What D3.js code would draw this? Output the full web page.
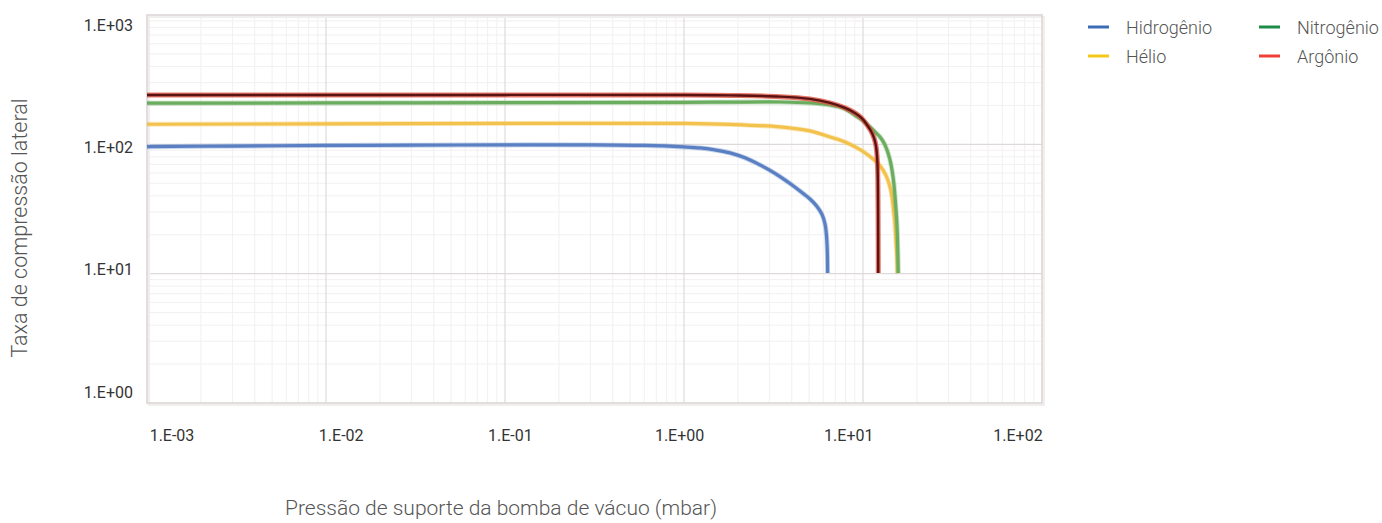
<!DOCTYPE html>
<html>
<head>
<meta charset="utf-8">
<script src="https://cdn.jsdelivr.net/npm/d3@7"></script>
<style>
  body { margin: 0; background: #fff; font-family: Roboto, "Open Sans", sans-serif; }
  .canvas svg { display: block; }
</style>
</head>
<body>
<div class="canvas"></div>
<script>
// gas names + legend colours
const gases = ["Hidrogênio", "Hélio", "Nitrogênio", "Argônio"];
const legendColors = ["#3c6cb6", "#f5c71a", "#1f8c47", "#ee3e35"];

// curves: pressure (mbar) / compression ratio
const pressH2 = [0.001, 0.003, 0.01, 0.03, 0.1, 0.3, 0.6, 1.0, 1.228, 1.49, 1.807, 2.192, 2.658, 3.023, 3.438, 3.91, 4.446, 5.057, 5.534, 5.902, 6.134, 6.254, 6.319, 6.343];
const ratioH2 = [96, 97, 98, 98.5, 99, 99, 98, 95.5, 93.8, 90.5, 85.9, 78.6, 69.3, 62.9, 56.3, 49.8, 43.6, 37.8, 33.1, 28.7, 24.2, 19.6, 14.7, 10.1];

const pressHe = [0.001, 0.01, 0.1, 1.0, 1.807, 3.438, 5.057, 6.54, 7.93, 9.26, 10.39, 11.37, 12.29, 12.93, 13.62, 14.15, 14.52, 14.8, 15.09, 15.29, 15.49, 15.55];
const ratioHe = [143, 144, 145, 145, 142.6, 136.4, 127.1, 114.1, 104.4, 93.8, 85, 77.1, 69.9, 63.4, 55, 46.8, 39.2, 31.1, 23.8, 17.3, 12.8, 10.1];

const pressN2 = [0.001, 0.01, 0.1, 1.0, 1.807, 3.438, 5.057, 6.54, 7.93, 8.79, 9.87, 10.94, 11.82, 12.45, 13.1, 13.62, 14.15, 14.52, 14.9, 15.19, 15.43, 15.58, 15.74];
const ratioN2 = [208, 209, 210, 211, 212, 212.5, 208.9, 201.6, 187.8, 171.8, 154.4, 136.3, 122.5, 114.1, 102.5, 90.5, 75.7, 63.4, 48.5, 35.2, 26, 19.2, 10.1];

const pressAr = [0.001, 0.01, 0.1, 1.0, 1.807, 3.438, 5.057, 6.54, 7.93, 9.02, 9.87, 10.53, 11.08, 11.52, 11.82, 12.0, 12.09, 12.14, 12.17];
const ratioAr = [241, 241, 241, 241, 238.9, 233.8, 224.4, 209, 191.2, 174.9, 158.6, 141.3, 126.9, 112.1, 97.2, 78.5, 58, 31.1, 10.1];

const xTickLabels = ["1.E-03", "1.E-02", "1.E-01", "1.E+00", "1.E+01", "1.E+02"];
const yTickLabels = ["1.E+00", "1.E+01", "1.E+02", "1.E+03"];

const dims = { width: 1382, height: 523 };
const plot = { left: 147, right: 1042, top: 15, bottom: 403 };

const svg = d3
    .select(".canvas")
    .append("svg")
    .attr("width", dims.width)
    .attr("height", dims.height);

const x = d3.scaleLog().domain([1e-3, 1e2]).range([plot.left, plot.right]);
const y = d3.scaleLog().domain([1, 1e3]).range([plot.bottom, plot.top]);

// the tick labels sit on their own even spacing, not exactly on the grid
const xLabel = d3.scalePoint().domain(xTickLabels).range([172, 1018]);
const yLabel = d3.scalePoint().domain(yTickLabels).range([392, 25]);

// grid
const minorX = [], minorY = [];
for (let e = -3; e < 2; e++) for (let m = 2; m < 10; m++) minorX.push(m * Math.pow(10, e));
for (let e = 0; e < 3; e++) for (let m = 2; m < 10; m++) minorY.push(m * Math.pow(10, e));
const majorX = [1e-2, 1e-1, 1, 1e1];
const majorY = [10, 100];

const grid = svg.append("g");
grid.selectAll(".mx").data(minorX).enter().append("line")
    .attr("x1", d => x(d)).attr("x2", d => x(d))
    .attr("y1", plot.top).attr("y2", plot.bottom)
    .attr("stroke", "#f2f0f0").attr("stroke-width", 1);
grid.selectAll(".my").data(minorY).enter().append("line")
    .attr("y1", d => y(d)).attr("y2", d => y(d))
    .attr("x1", plot.left).attr("x2", plot.right)
    .attr("stroke", "#f2f0f0").attr("stroke-width", 1);
grid.selectAll(".MX").data(majorX).enter().append("line")
    .attr("x1", d => x(d)).attr("x2", d => x(d))
    .attr("y1", plot.top).attr("y2", plot.bottom)
    .attr("stroke", "#dedada").attr("stroke-width", 1.2);
grid.selectAll(".MY").data(majorY).enter().append("line")
    .attr("y1", d => y(d)).attr("y2", d => y(d))
    .attr("x1", plot.left).attr("x2", plot.right)
    .attr("stroke", "#dedada").attr("stroke-width", 1.2);

// faint shadow + frame
svg.append("rect")
    .attr("x", plot.left + 2).attr("y", plot.top + 2)
    .attr("width", plot.right - plot.left).attr("height", plot.bottom - plot.top)
    .attr("fill", "none").attr("stroke", "#f1eeee").attr("stroke-width", 2);
svg.append("rect")
    .attr("x", plot.left).attr("y", plot.top)
    .attr("width", plot.right - plot.left).attr("height", plot.bottom - plot.top)
    .attr("fill", "none").attr("stroke", "#dcd5d5").attr("stroke-width", 1.6);

// curves
const series = [
    { name: gases[0], p: pressH2, r: ratioH2, color: "#5a80c3" },
    { name: gases[1], p: pressHe, r: ratioHe, color: "#f3c24c" },
    { name: gases[2], p: pressN2, r: ratioN2, color: "#6aad5f" },
    { name: gases[3], p: pressAr, r: ratioAr, color: "#5a1212", under: "#df5545" }
];

const lineGen = d3.line()
    .x(d => x(d[0]))
    .y(d => y(d[1]))
    .curve(d3.curveCatmullRom.alpha(0.5));

const chart = svg.append("g");
series.forEach(s => {
    const pts = s.p.map((p, i) => [p, s.r[i]]);
    chart.append("path")
        .attr("d", lineGen(pts))
        .attr("fill", "none")
        .attr("stroke", s.under || s.color)
        .attr("stroke-opacity", s.under ? 0.8 : 0.35)
        .attr("stroke-width", 5);
    chart.append("path")
        .attr("d", lineGen(pts))
        .attr("fill", "none")
        .attr("stroke", s.color)
        .attr("stroke-width", s.under ? 2.4 : 3.2);
});

// tick labels
svg.append("g").selectAll("text").data(xTickLabels).enter().append("text")
    .attr("x", d => xLabel(d)).attr("y", 441)
    .attr("text-anchor", "middle")
    .attr("font-size", 16).attr("fill", "#333")
    .text(d => d);
svg.append("g").selectAll("text").data(yTickLabels).enter().append("text")
    .attr("x", 133).attr("y", d => yLabel(d) + 5.5)
    .attr("text-anchor", "end")
    .attr("font-size", 16).attr("fill", "#333")
    .text(d => d);

// axis titles
svg.append("text")
    .attr("x", 501).attr("y", 515)
    .attr("text-anchor", "middle")
    .attr("font-size", 21).attr("font-weight", 300).attr("fill", "#555")
    .text("Pressão de suporte da bomba de vácuo (mbar)");
svg.append("text")
    .attr("transform", "translate(27,228) rotate(-90)")
    .attr("text-anchor", "middle")
    .attr("font-size", 21.5).attr("font-weight", 300).attr("fill", "#555")
    .text("Taxa de compressão lateral");

// legend
const legend = svg.append("g");
const cells = legend.selectAll("g").data(gases).enter().append("g")
    .attr("transform", (d, i) => `translate(${i < 2 ? 1088 : 1259},${i % 2 ? 56 : 27})`);
cells.append("line")
    .attr("x1", 0).attr("x2", 21)
    .attr("stroke", (d, i) => legendColors[i]).attr("stroke-width", 3);
cells.append("text")
    .attr("x", 38).attr("y", 6.5)
    .attr("font-size", 18).attr("font-weight", 300).attr("fill", "#555")
    .text(d => d);
</script>
</body>
</html>
